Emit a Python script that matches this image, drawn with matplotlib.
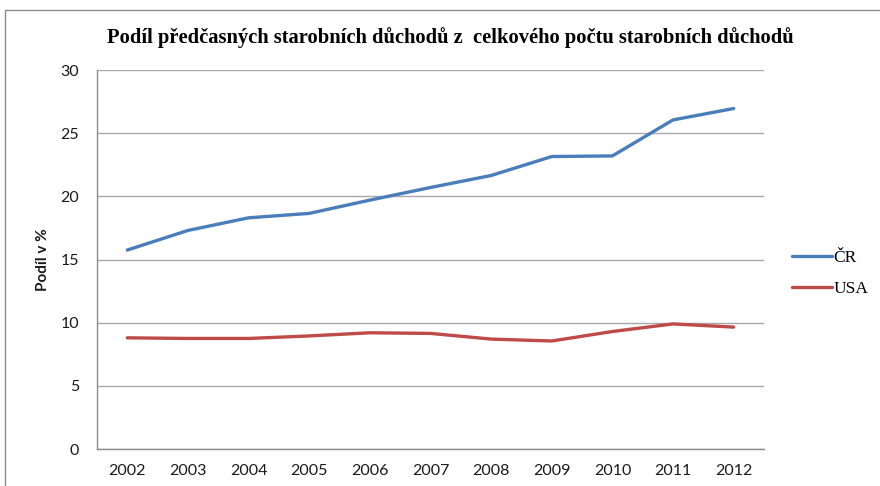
import matplotlib
matplotlib.use("Agg")
import matplotlib.pyplot as plt
from matplotlib.patches import Rectangle

years = ["2002", "2003", "2004", "2005", "2006", "2007", "2008", "2009", "2010", "2011", "2012"]
cr_share = [15.75, 17.3, 18.3, 18.65, 19.7, 20.7, 21.65, 23.15, 23.2, 26.05, 26.95]
usa_share = [8.8, 8.75, 8.75, 8.95, 9.2, 9.15, 8.7, 8.55, 9.3, 9.9, 9.65]
series_names = ["ČR", "USA"]
title = "Podíl předčasných starobních důchodů z  celkového počtu starobních důchodů"
y_label = "Podíl v %"
y_ticks = [0, 5, 10, 15, 20, 25, 30]

W, H = 880, 486
fig = plt.figure(figsize=(W / 100, H / 100), dpi=100)
fig.patch.set_facecolor("white")

# outer chart frame (runs off the right and bottom edges)
fig.patches.append(Rectangle((5 / W, -0.05), 1.1, 1 - 10 / H + 0.05,
                             transform=fig.transFigure, fill=False,
                             edgecolor="#8c8c8c", linewidth=1.0))

left, right, top, bottom = 97, 764, 70, 449
ax = fig.add_axes([left / W, 1 - bottom / H, (right - left) / W, (bottom - top) / H])

x = list(range(len(years)))
ax.plot(x, cr_share, color="#4a7ebb", linewidth=2.4, solid_capstyle="round",
        label=series_names[0], zorder=3)
ax.plot(x, usa_share, color="#be4b48", linewidth=2.4, solid_capstyle="round",
        label=series_names[1], zorder=3)

ax.set_xlim(-0.5, len(years) - 0.5)
ax.set_ylim(0, 30)
ax.set_yticks(y_ticks)
ax.set_xticks(x)
ax.set_xticklabels(years)
ax.grid(axis="y", color="#a8a8a8", linewidth=1.0)
ax.set_axisbelow(True)

for s in ["top", "right"]:
    ax.spines[s].set_visible(False)
for s in ["left", "bottom"]:
    ax.spines[s].set_color("#8c8c8c")
    ax.spines[s].set_linewidth(1.0)

ax.tick_params(axis="both", length=0, labelsize=11.5, labelcolor="#1a1a1a")
ax.tick_params(axis="y", pad=13)
ax.tick_params(axis="x", pad=11)
for lbl in ax.get_xticklabels() + ax.get_yticklabels():
    lbl.set_family("Lato")

ax.set_ylabel(y_label, fontsize=11, fontweight="bold", family="Lato",
              color="#1a1a1a", labelpad=7)

fig.text(450 / W, 1 - 38 / H, title, ha="center", va="center",
         fontsize=14.8, fontweight="bold", family="Liberation Serif", color="#000000")

leg = ax.legend(loc="center left", bbox_to_anchor=(792 / W, 1 - 273.5 / H),
                bbox_transform=fig.transFigure, frameon=False, borderaxespad=0,
                borderpad=0, handlelength=2.3, handletextpad=0.1,
                labelspacing=0.85, prop={"family": "Liberation Serif", "size": 12.5})

fig.savefig("out.png", dpi=100, facecolor="white")
